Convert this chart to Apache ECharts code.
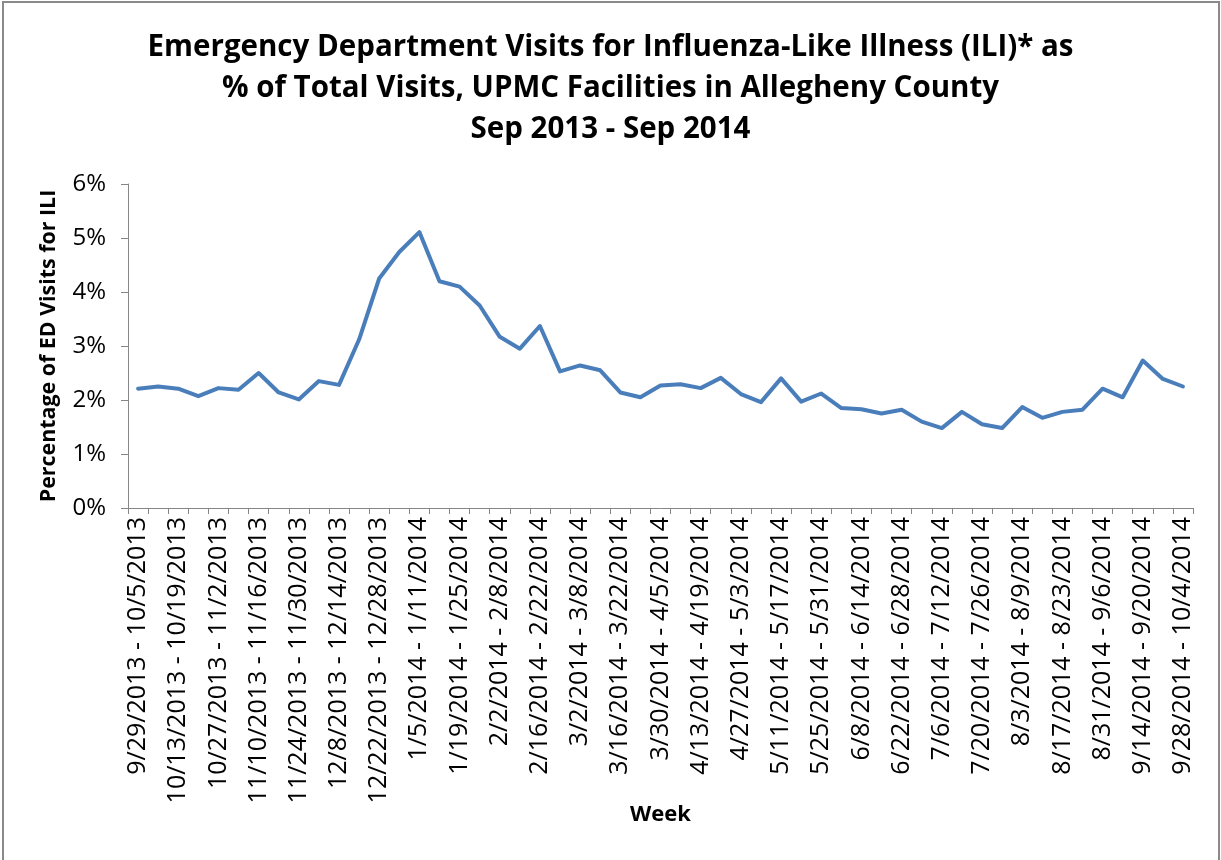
<!DOCTYPE html>
<html>
<head>
<meta charset="utf-8">
<script src="https://cdn.jsdelivr.net/npm/echarts@6/dist/echarts.min.js"></script>
<style>
html,body{margin:0;padding:0;background:#fff;}
#chart{width:1221px;height:860px;}
</style>
</head>
<body>
<div id="chart"></div>
<script>
const weeks = [
"9/29/2013 - 10/5/2013","10/6/2013 - 10/12/2013","10/13/2013 - 10/19/2013","10/20/2013 - 10/26/2013",
"10/27/2013 - 11/2/2013","11/3/2013 - 11/9/2013","11/10/2013 - 11/16/2013","11/17/2013 - 11/23/2013",
"11/24/2013 - 11/30/2013","12/1/2013 - 12/7/2013","12/8/2013 - 12/14/2013","12/15/2013 - 12/21/2013",
"12/22/2013 - 12/28/2013","12/29/2013 - 1/4/2014","1/5/2014 - 1/11/2014","1/12/2014 - 1/18/2014",
"1/19/2014 - 1/25/2014","1/26/2014 - 2/1/2014","2/2/2014 - 2/8/2014","2/9/2014 - 2/15/2014",
"2/16/2014 - 2/22/2014","2/23/2014 - 3/1/2014","3/2/2014 - 3/8/2014","3/9/2014 - 3/15/2014",
"3/16/2014 - 3/22/2014","3/23/2014 - 3/29/2014","3/30/2014 - 4/5/2014","4/6/2014 - 4/12/2014",
"4/13/2014 - 4/19/2014","4/20/2014 - 4/26/2014","4/27/2014 - 5/3/2014","5/4/2014 - 5/10/2014",
"5/11/2014 - 5/17/2014","5/18/2014 - 5/24/2014","5/25/2014 - 5/31/2014","6/1/2014 - 6/7/2014",
"6/8/2014 - 6/14/2014","6/15/2014 - 6/21/2014","6/22/2014 - 6/28/2014","6/29/2014 - 7/5/2014",
"7/6/2014 - 7/12/2014","7/13/2014 - 7/19/2014","7/20/2014 - 7/26/2014","7/27/2014 - 8/2/2014",
"8/3/2014 - 8/9/2014","8/10/2014 - 8/16/2014","8/17/2014 - 8/23/2014","8/24/2014 - 8/30/2014",
"8/31/2014 - 9/6/2014","9/7/2014 - 9/13/2014","9/14/2014 - 9/20/2014","9/21/2014 - 9/27/2014",
"9/28/2014 - 10/4/2014"
];
const iliPercent = [
2.21,2.25,2.21,2.07,2.22,2.19,2.50,2.14,2.01,2.35,
2.28,3.12,4.25,4.74,5.11,4.20,4.10,3.75,3.17,2.95,
3.37,2.53,2.64,2.55,2.14,2.05,2.27,2.29,2.22,2.41,
2.11,1.96,2.40,1.97,2.12,1.85,1.83,1.75,1.82,1.60,
1.48,1.78,1.55,1.48,1.87,1.67,1.78,1.82,2.21,2.05,
2.73,2.39,2.25
];
const titleLines = [
"Emergency Department Visits for Influenza-Like Illness (ILI)* as",
"% of Total Visits, UPMC Facilities in Allegheny County",
"Sep 2013 - Sep 2014"
];
const yAxisName = "Percentage of ED Visits for ILI";
const xAxisName = "Week";

const FONT = "'Open Sans', 'Noto Sans', sans-serif";
const chart = echarts.init(document.getElementById('chart'), null, {renderer:'canvas'});
chart.setOption({
  animation:false,
  backgroundColor:'#fff',
  title:{
    text:titleLines.join('\n'),
    left:'center', top:22,
    textStyle:{fontFamily:FONT,fontSize:29.5,fontWeight:'bold',color:'#000',lineHeight:41}
  },
  graphic:[{
    type:'rect', shape:{x:3,y:2,width:1216,height:880},
    style:{fill:'none',stroke:'#8a8a8a',lineWidth:2}, silent:true
  }],
  grid:{left:128,right:28,top:184,bottom:352,containLabel:false},
  xAxis:{
    type:'category', data:weeks, boundaryGap:true,
    name:xAxisName, nameLocation:'middle', nameGap:296, nameMoveOverlap:false,
    nameTextStyle:{fontFamily:FONT,fontSize:22,fontWeight:'bold',color:'#000'},
    axisLine:{lineStyle:{color:'#868686',width:1}},
    axisTick:{show:true,interval:0,length:6,lineStyle:{color:'#868686'}},
    axisLabel:{
      interval:1, rotate:90, margin:9,
      fontFamily:FONT,fontSize:25,color:'#000'
    },
    splitLine:{show:false}
  },
  yAxis:{
    type:'value', min:0, max:6, interval:1,
    name:yAxisName, nameLocation:'middle', nameGap:69, nameRotate:90, nameMoveOverlap:false,
    nameTextStyle:{fontFamily:FONT,fontSize:21.4,fontWeight:'bold',color:'#000'},
    axisLine:{show:true,lineStyle:{color:'#868686',width:1}},
    axisTick:{show:true,inside:false,length:7,lineStyle:{color:'#868686'}},
    axisLabel:{formatter:'{value}%',margin:22,fontFamily:FONT,fontSize:24,color:'#000'},
    splitLine:{show:false}
  },
  series:[{
    type:'line', data:iliPercent, showSymbol:false, symbol:'none',
    lineStyle:{color:'#4a7ebb',width:4,join:'round',cap:'round'},
    itemStyle:{color:'#4a7ebb'}
  }]
});
</script>
</body>
</html>
